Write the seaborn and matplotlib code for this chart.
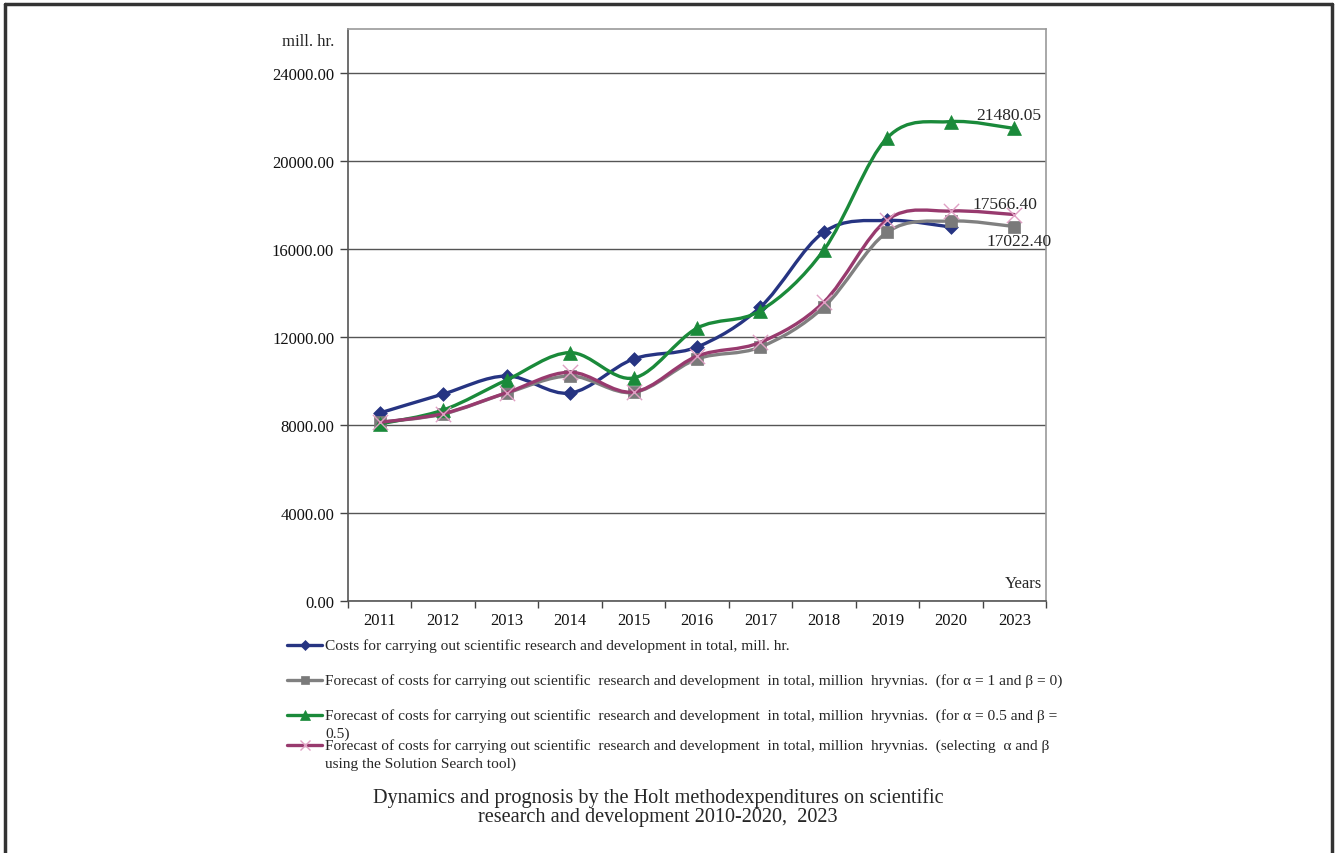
import numpy as np
import pandas as pd
import matplotlib
matplotlib.use("Agg")
import matplotlib.pyplot as plt
import seaborn as sns
from matplotlib.path import Path
from matplotlib.patches import PathPatch
from matplotlib.lines import Line2D

# ---------------- data ----------------
years = ["2011", "2012", "2013", "2014", "2015", "2016", "2017", "2018", "2019", "2020", "2023"]
actual = [8545, 9409, 10227, 9454, 11000, 11545, 13363, 16772, 17300, 17000, np.nan]
forecast_a1_b0 = [8120, 8500, 9450, 10227, 9480, 11000, 11545, 13363, 16772, 17272, 17022.40]
forecast_a05_b05 = [8045, 8681, 10045, 11290, 10136, 12400, 13200, 15960, 21060, 21790, 21480.05]
forecast_solver = [8120, 8520, 9470, 10400, 9500, 11130, 11760, 13590, 17330, 17727, 17566.40]

labels = [
    "Costs for carrying out scientific research and development in total, mill. hr.",
    "Forecast of costs for carrying out scientific  research and development  in total, million  hryvnias.  (for \u03b1 = 1 and \u03b2 = 0)",
    "Forecast of costs for carrying out scientific  research and development  in total, million  hryvnias.  (for \u03b1 = 0.5 and \u03b2 =\n0.5)",
    "Forecast of costs for carrying out scientific  research and development  in total, million  hryvnias.  (selecting  \u03b1 and \u03b2\nusing the Solution Search tool)",
]
y_ticks = [0, 4000, 8000, 12000, 16000, 20000, 24000]
title_lines = "Dynamics and prognosis by the Holt methodexpenditures on scientific\nresearch and development 2010-2020,  2023"

W, H = 1336, 854
sns.set_theme(style="white")
plt.rcParams["font.family"] = ["Liberation Serif", "DejaVu Serif"]

fig = plt.figure(figsize=(W / 100, H / 100), dpi=100)
ax = fig.add_axes([348 / W, 1 - 602 / H, (1046 - 348) / W, (602 - 30) / H])

series = [
    (actual, "#263482", "D", 7, "#263482"),
    (forecast_a1_b0, "#808080", "s", 9, "#7a7a7a"),
    (forecast_a05_b05, "#1a8a3a", "^", 10, "#1a8a3a"),
    (forecast_solver, "#983a6e", "x", 11, "#e0a0c4"),
]

def smooth_path(xs, ys):
    pts = np.column_stack([xs, ys])
    n = len(pts)
    verts = [pts[0]]
    codes = [Path.MOVETO]
    for i in range(n - 1):
        p0 = pts[i - 1] if i > 0 else pts[i]
        p1 = pts[i]
        p2 = pts[i + 1]
        p3 = pts[i + 2] if i + 2 < n else pts[i + 1]
        c1 = p1 + (p2 - p0) / 6.0
        c2 = p2 - (p3 - p1) / 6.0
        verts += [c1, c2, p2]
        codes += [Path.CURVE4] * 3
    return Path(verts, codes)

for z, (vals, col, mk, ms, mcol) in enumerate(series):
    df = pd.DataFrame({"x": np.arange(len(years)), "y": vals}).dropna()
    patch = PathPatch(smooth_path(df["x"].values.astype(float), df["y"].values.astype(float)),
                      facecolor="none", edgecolor=col, lw=2.4, zorder=3 + z * 2,
                      capstyle="round", joinstyle="round")
    ax.add_patch(patch)
    if mk == "x":
        sns.scatterplot(data=df, x="x", y="y", marker="x", s=ms ** 2, color=mcol,
                        linewidth=1.0, ax=ax, zorder=4 + z * 2, legend=False)
    else:
        sns.scatterplot(data=df, x="x", y="y", marker=mk, s=ms ** 2, color=mcol,
                        edgecolor=mcol, linewidth=0.5, ax=ax, zorder=4 + z * 2, legend=False)

ax.set_xlim(-0.5, len(years) - 0.5)
ax.set_ylim(0, 26000)
ax.set_yticks(y_ticks)
ax.set_yticklabels([f"{v:.2f}" for v in y_ticks], fontsize=12)
ax.set_xticks(np.arange(len(years)))
ax.set_xticklabels(years, fontsize=12)
ax.set_xticks(np.arange(-0.5, len(years)), minor=True)
ax.tick_params(axis="x", which="major", length=0, pad=8, colors="#111111")
ax.tick_params(axis="x", which="minor", length=5, width=1, color="#444444", direction="out", bottom=True)
ax.tick_params(axis="y", length=6, width=1, color="#444444", direction="out", left=True, pad=4, colors="#111111")
for t in ax.get_yticklines():
    t.set_color("#444444")
ax.grid(axis="y", color="#555555", lw=1.0)
ax.grid(axis="x", visible=False)
ax.set_axisbelow(True)
ax.set_xlabel("")
ax.set_ylabel("")
for s in ["left", "bottom"]:
    ax.spines[s].set_color("#555555")
    ax.spines[s].set_linewidth(1.2)
for s in ["top", "right"]:
    ax.spines[s].set_color("#9a9a9a")
    ax.spines[s].set_linewidth(1.2)

# data labels
ax.annotate("21480.05", (10, forecast_a05_b05[10]), xytext=(-38, 13), textcoords="offset pixels",
            ha="left", va="center", fontsize=12.5, zorder=20)
ax.annotate("17566.40", (10, forecast_solver[10]), xytext=(-42, 11), textcoords="offset pixels",
            ha="left", va="center", fontsize=12.5, zorder=20)
ax.annotate("17022.40", (10, forecast_a1_b0[10]), xytext=(-28, -14), textcoords="offset pixels",
            ha="left", va="center", fontsize=12.5, zorder=20, annotation_clip=False)

def fx(px):
    return px / W

def fy(py):
    return 1 - py / H

fig.text(fx(334), fy(42), "mill. hr.", ha="right", va="center", fontsize=12)
fig.text(fx(1042), fy(584), "Years", ha="right", va="center", fontsize=12)

# legend (manual)
leg_y = [646, 681, 716, 746]
for (vals, col, mk, ms, mcol), lab, ly in zip(series, labels, leg_y):
    ln = Line2D([fx(287), fx(304.5), fx(322)], [fy(ly)] * 3, transform=fig.transFigure,
                color=col, lw=2.4, marker=mk, markevery=[1], markersize=ms * 0.7,
                markerfacecolor=mcol, markeredgecolor=mcol, markeredgewidth=1.0 if mk == "x" else 0.5)
    fig.add_artist(ln)
    for k, part in enumerate(lab.split("\n")):
        fig.text(fx(325), fy(ly + 18 * k), part, ha="left", va="center", fontsize=11.05)

fig.text(fx(658), fy(808), title_lines, ha="center", va="center", fontsize=14.6, linespacing=1.0)

# outer frame
fig.add_artist(Line2D([fx(5), fx(5)], [fy(854), fy(5)], transform=fig.transFigure, color="#333333", lw=2.5))
fig.add_artist(Line2D([fx(5), fx(1332)], [fy(5), fy(5)], transform=fig.transFigure, color="#333333", lw=2.5))
fig.add_artist(Line2D([fx(1332), fx(1332)], [fy(5), fy(854)], transform=fig.transFigure, color="#333333", lw=2.5))

fig.savefig("out.png", dpi=100, facecolor="white")
